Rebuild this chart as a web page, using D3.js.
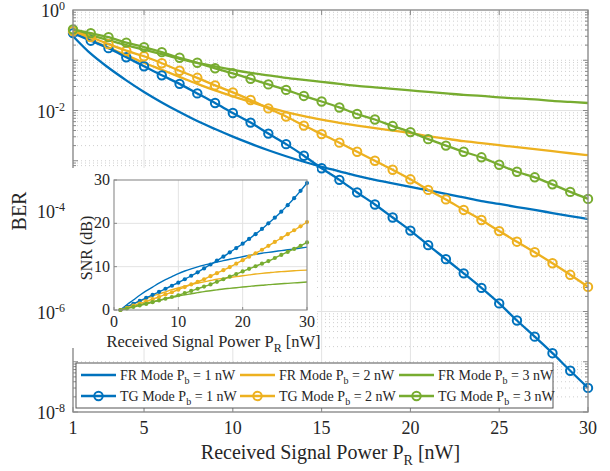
<!DOCTYPE html>
<html><head><meta charset="utf-8">
<script src="https://cdn.jsdelivr.net/npm/d3@7"></script>
<style>body{margin:0;background:#fff;} svg{display:block;} text{font-family:"Liberation Serif","Times New Roman",serif;fill:#262626;}</style>
</head><body><svg id="c" width="610" height="471"></svg>
<script>
// ---------------- data ----------------
const powerNW = [1,2,3,4,5,6,7,8,9,10,11,12,13,14,15,16,17,18,19,20,21,22,23,24,25,26,27,28,29,30];
const berFR1 = [0.302,0.135,0.0708,0.0398,0.0234,0.0145,0.00933,0.00617,0.00427,0.00302,0.00219,0.00162,0.00123,9.55e-4,7.59e-4,6.17e-4,5.01e-4,4.17e-4,3.55e-4,3.02e-4,2.57e-4,2.19e-4,1.86e-4,1.58e-4,1.38e-4,1.20e-4,1.05e-4,9.12e-5,7.94e-5,6.92e-5];
const berFR2 = [0.372,0.257,0.178,0.126,0.0891,0.0646,0.0468,0.0339,0.0251,0.0191,0.0148,0.0115,0.00933,0.00776,0.00661,0.00570,0.00501,0.00447,0.00398,0.00355,0.00309,0.00275,0.00245,0.00224,0.00204,0.00186,0.00170,0.00155,0.00141,0.00129];
const berFR3 = [0.398,0.316,0.251,0.200,0.162,0.132,0.107,0.0891,0.0759,0.0646,0.0562,0.0501,0.0447,0.0407,0.0372,0.0339,0.0309,0.0288,0.0269,0.0251,0.0234,0.0219,0.0204,0.0195,0.0182,0.0174,0.0166,0.0155,0.0148,0.0141];
const berTG1 = [0.347,0.245,0.174,0.115,0.0759,0.0501,0.0339,0.0219,0.0141,0.00891,0.00575,0.00347,0.00214,0.00126,7.08e-4,4.17e-4,2.34e-4,1.35e-4,7.41e-5,4.07e-5,2.09e-5,1.10e-5,5.75e-6,2.95e-6,1.45e-6,6.61e-7,3.16e-7,1.48e-7,6.61e-8,3.02e-8];
const berTG2 = [0.380,0.288,0.209,0.155,0.120,0.0871,0.0617,0.0447,0.0316,0.0229,0.0162,0.0110,0.00759,0.00501,0.00339,0.00229,0.00151,0.00100,6.61e-4,4.27e-4,2.63e-4,1.70e-4,1.05e-4,6.61e-5,3.98e-5,2.45e-5,1.51e-5,9.12e-6,5.37e-6,3.09e-6];
const berTG3 = [0.412,0.347,0.288,0.224,0.182,0.145,0.112,0.0891,0.0692,0.0550,0.0427,0.0331,0.0257,0.0195,0.0151,0.0115,0.00851,0.00661,0.00490,0.00372,0.00269,0.00200,0.00151,0.00117,8.32e-4,6.03e-4,4.68e-4,3.39e-4,2.40e-4,1.74e-4];
// inset SNR (dB)
const snrFR1 = [0,1.2,2.3,3.4,4.4,5.3,6.2,7.0,7.7,8.4,9.0,9.5,9.95,10.35,10.7,11.05,11.4,11.7,12.0,12.3,12.6,12.85,13.1,13.3,13.5,13.7,13.9,14.1,14.3,14.5];
const snrFR2 = [0,0.7,1.4,2.0,2.6,3.2,3.7,4.2,4.7,5.1,5.5,5.9,6.2,6.5,6.8,7.1,7.3,7.5,7.7,7.9,8.1,8.3,8.45,8.6,8.75,8.85,8.95,9.05,9.15,9.2];
const snrFR3 = [0,0.4,0.8,1.2,1.55,1.9,2.25,2.6,2.9,3.2,3.5,3.75,4.0,4.25,4.45,4.65,4.85,5.0,5.15,5.3,5.45,5.6,5.7,5.85,5.95,6.05,6.15,6.25,6.35,6.45];
const snrTG1 = [0,0.7,1.4,2.1,2.8,3.5,4.2,4.9,5.6,6.3,7.1,7.9,8.7,9.6,10.5,11.4,12.3,13.3,14.3,15.3,16.4,17.5,18.7,20.0,21.3,22.7,24.2,25.8,27.5,29.3];
const snrTG2 = [0,0.5,1.0,1.5,2.0,2.5,3.0,3.6,4.1,4.7,5.3,5.9,6.5,7.1,7.8,8.5,9.2,9.9,10.7,11.5,12.3,13.1,13.9,14.8,15.7,16.6,17.5,18.4,19.3,20.3];
const snrTG3 = [0,0.35,0.7,1.05,1.4,1.8,2.2,2.6,3.0,3.4,3.9,4.4,4.9,5.4,5.9,6.5,7.1,7.7,8.3,8.9,9.5,10.1,10.7,11.3,12.0,12.7,13.4,14.1,14.8,15.6];
const xTicks = [1,5,10,15,20,25,30];
const yTickExps = [0,-2,-4,-6,-8];
const insetTicks = [0,10,20,30];
const pbLabels = ["1","2","3"];
const colors = ["#0072BD","#EDB120","#77AC30"];

// ---------------- layout ----------------
const svg = d3.select("#c");
const M = {l:73, r:588, t:10, b:412};
const x = d3.scaleLinear().domain([1,30]).range([M.l, M.r]);
const y = d3.scaleLog().domain([1e-8,1]).range([M.b, M.t]);
const gridCol = "#e3e3e3", minorCol = "#cfcfcf", axCol = "#8a8a8a";

// grid
const gGrid = svg.append("g");
for (let e=-8; e<0; e++) {
  for (let k=1; k<=9; k++) {
    const v = k*Math.pow(10,e);
    if (k===1 && e%2===0) continue;
    gGrid.append("line").attr("x1",M.l).attr("x2",M.r).attr("y1",y(v)).attr("y2",y(v))
      .attr("stroke",minorCol).attr("stroke-width",1).attr("stroke-dasharray","1,3");
  }
}
yTickExps.forEach(e => {
  gGrid.append("line").attr("x1",M.l).attr("x2",M.r).attr("y1",y(Math.pow(10,e))).attr("y2",y(Math.pow(10,e)))
    .attr("stroke",gridCol).attr("stroke-width",1);
});
xTicks.forEach(t => {
  gGrid.append("line").attr("x1",x(t)).attr("x2",x(t)).attr("y1",M.t).attr("y2",M.b)
    .attr("stroke",gridCol).attr("stroke-width",1);
});

// main curves
const line = d3.line().x((d,i)=>x(powerNW[i])).y(d=>y(d)).curve(d3.curveMonotoneX);
const gC = svg.append("g");
[berFR1,berFR2,berFR3].forEach((s,i)=>{
  gC.append("path").attr("d",line(s)).attr("fill","none").attr("stroke",colors[i]).attr("stroke-width",2.3);
});
[berTG1,berTG2,berTG3].forEach((s,i)=>{
  gC.append("path").attr("d",line(s)).attr("fill","none").attr("stroke",colors[i]).attr("stroke-width",2.3);
  gC.selectAll(null).data(s).enter().append("circle")
    .attr("cx",(d,j)=>x(powerNW[j])).attr("cy",d=>y(d)).attr("r",4.2)
    .attr("fill","none").attr("stroke",colors[i]).attr("stroke-width",2);
});

// axes box & ticks
const gA = svg.append("g");
gA.append("rect").attr("x",M.l).attr("y",M.t).attr("width",M.r-M.l).attr("height",M.b-M.t)
  .attr("fill","none").attr("stroke",axCol).attr("stroke-width",1.3);
xTicks.forEach(t=>{
  gA.append("line").attr("x1",x(t)).attr("x2",x(t)).attr("y1",M.b).attr("y2",M.b-5).attr("stroke",axCol);
  gA.append("line").attr("x1",x(t)).attr("x2",x(t)).attr("y1",M.t).attr("y2",M.t+5).attr("stroke",axCol);
  gA.append("text").attr("x",x(t)).attr("y",M.b+22).attr("text-anchor","middle").attr("font-size",18).text(t);
});
for (let e=-8; e<0; e++) {
  for (let k=1; k<=9; k++) {
    const v = k*Math.pow(10,e); const len = (k===1)?5:3;
    [[M.l,len],[M.r,-len]].forEach(([x0,dl])=>{
      gA.append("line").attr("x1",x0).attr("x2",x0+dl).attr("y1",y(v)).attr("y2",y(v)).attr("stroke",axCol);
    });
  }
}
yTickExps.forEach(e=>{
  const t = gA.append("text").attr("x",M.l-8).attr("y",y(Math.pow(10,e))+7).attr("text-anchor","end").attr("font-size",18);
  t.append("tspan").text("10");
  t.append("tspan").attr("dy",-7).attr("font-size",12).text(String(e));
});
// axis labels
const xl = svg.append("text").attr("x",(M.l+M.r)/2).attr("y",459).attr("text-anchor","middle").attr("font-size",20);
xl.append("tspan").text("Received Signal Power P");
xl.append("tspan").attr("dy",6).attr("font-size",14).text("R");
xl.append("tspan").attr("dy",-6).text(" [nW]");
svg.append("text").attr("transform","translate(26,211) rotate(-90)").attr("text-anchor","middle").attr("font-size",20).text("BER");

// ---------------- inset ----------------
const I = {l:114, r:307, t:180, b:310};
const xi = d3.scaleLinear().domain([0,30]).range([I.l,I.r]);
const yi = d3.scaleLinear().domain([0,30]).range([I.b,I.t]);
const gI = svg.append("g");
gI.append("rect").attr("x",I.l-42).attr("y",I.t-12).attr("width",I.r-I.l+52).attr("height",I.b-I.t+50).attr("fill","#fff");
insetTicks.slice(1,3).forEach(t=>{
  gI.append("line").attr("x1",xi(t)).attr("x2",xi(t)).attr("y1",I.t).attr("y2",I.b).attr("stroke",gridCol);
  gI.append("line").attr("x1",I.l).attr("x2",I.r).attr("y1",yi(t)).attr("y2",yi(t)).attr("stroke",gridCol);
});
const lineI = d3.line().x((d,i)=>xi(powerNW[i])).y(d=>yi(d)).curve(d3.curveMonotoneX);
[snrFR1,snrFR2,snrFR3].forEach((s,i)=>{
  gI.append("path").attr("d",lineI(s)).attr("fill","none").attr("stroke",colors[i]).attr("stroke-width",1.4);
});
[snrTG1,snrTG2,snrTG3].forEach((s,i)=>{
  gI.append("path").attr("d",lineI(s)).attr("fill","none").attr("stroke",colors[i]).attr("stroke-width",1.4);
  gI.selectAll(null).data(s).enter().append("circle")
    .attr("cx",(d,j)=>xi(powerNW[j])).attr("cy",d=>yi(d)).attr("r",2.1).attr("fill",colors[i]);
});
gI.append("rect").attr("x",I.l).attr("y",I.t).attr("width",I.r-I.l).attr("height",I.b-I.t)
  .attr("fill","none").attr("stroke",axCol).attr("stroke-width",1.1);
insetTicks.forEach(t=>{
  gI.append("line").attr("x1",xi(t)).attr("x2",xi(t)).attr("y1",I.b).attr("y2",I.b-3).attr("stroke",axCol);
  gI.append("line").attr("x1",I.l).attr("x2",I.l+3).attr("y1",yi(t)).attr("y2",yi(t)).attr("stroke",axCol);
  gI.append("text").attr("x",xi(t)).attr("y",I.b+17).attr("text-anchor","middle").attr("font-size",16).text(t);
  gI.append("text").attr("x",I.l-4).attr("y",yi(t)+5).attr("text-anchor","end").attr("font-size",16).text(t);
});
const xil = gI.append("text").attr("x",(I.l+I.r)/2+3).attr("y",347).attr("text-anchor","middle").attr("font-size",16.5);
xil.append("tspan").text("Received Signal Power P");
xil.append("tspan").attr("dy",5).attr("font-size",12).text("R");
xil.append("tspan").attr("dy",-5).text(" [nW]");
gI.append("text").attr("transform","translate(92,"+((I.t+I.b)/2+3)+") rotate(-90)").attr("text-anchor","middle").attr("font-size",16).text("SNR (dB)");

// ---------------- legend ----------------
const L = {x:76, y:363, w:477, h:45};
const gL = svg.append("g");
gL.append("rect").attr("x",L.x).attr("y",L.y).attr("width",L.w).attr("height",L.h).attr("fill","#fff").attr("stroke","#555").attr("stroke-width",1);
const colX = [81,240,399];
const rowY = [L.y+12, L.y+33];
["FR","TG"].forEach((mode,r)=>{
  pbLabels.forEach((pb,c)=>{
    const cy = rowY[r];
    gL.append("line").attr("x1",colX[c]).attr("x2",colX[c]+35).attr("y1",cy).attr("y2",cy).attr("stroke",colors[c]).attr("stroke-width",2.3);
    if (mode==="TG") gL.append("circle").attr("cx",colX[c]+17.5).attr("cy",cy).attr("r",4.2).attr("fill","none").attr("stroke",colors[c]).attr("stroke-width",2);
    const t = gL.append("text").attr("x",colX[c]+39).attr("y",cy+4.5).attr("font-size",14);
    t.append("tspan").text(mode+" Mode P");
    t.append("tspan").attr("dy",4).attr("font-size",10).text("b");
    t.append("tspan").attr("dy",-4).text(" = "+pb+" nW");
  });
});
</script></body></html>
